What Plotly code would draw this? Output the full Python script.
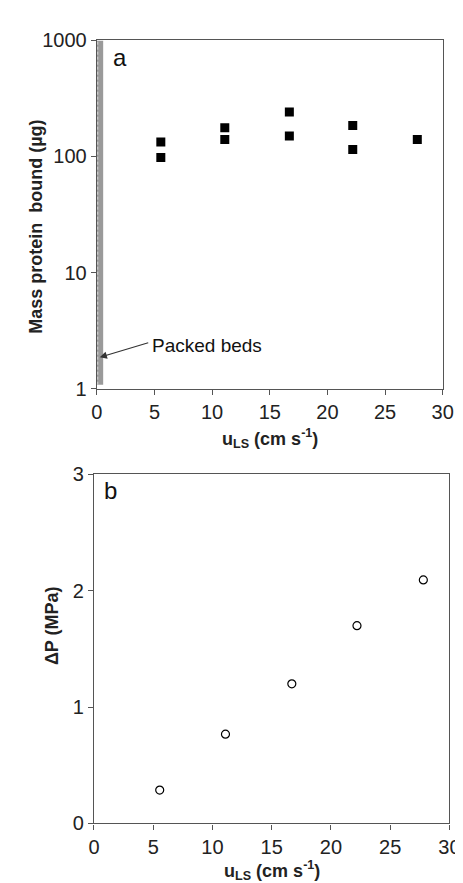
import plotly.graph_objects as go
import math

# Panel a data
u_a = [5.55, 5.55, 11.1, 11.1, 16.7, 16.7, 22.2, 22.2, 27.8]
mass_bound = [133, 98, 177, 140, 242, 150, 185, 115, 140]

# Packed bed region
packed_x = [0, 0.55, 0.55, 0]
packed_y = [1.08, 1.08, 1000, 1000]

# Panel b data
u_b = [5.55, 11.1, 16.7, 22.2, 27.8]
dP = [0.287, 0.767, 1.20, 1.70, 2.093]

x_ticks = [0, 5, 10, 15, 20, 25, 30]
y_ticks_a = [1, 10, 100, 1000]
y_ticks_b = [0, 1, 2, 3]

W, H = 463, 883
FONT = "Liberation Sans, Arial, sans-serif"
AX = "#555555"

fig = go.Figure()

fig.add_trace(go.Scatter(x=packed_x, y=packed_y, fill="toself", mode="lines",
                         fillcolor="#9a9a9a", line=dict(width=0), xaxis="x", yaxis="y",
                         showlegend=False, hoverinfo="skip"))
fig.add_trace(go.Scatter(x=[0.08, 0.08], y=[1.08, 1000], mode="lines",
                         line=dict(color="#d8d8d8", width=1, dash="3px,2px"),
                         xaxis="x", yaxis="y", showlegend=False, hoverinfo="skip"))
fig.add_trace(go.Scatter(x=u_a, y=mass_bound, mode="markers",
                         marker=dict(symbol="square", size=9, color="black"),
                         xaxis="x", yaxis="y", showlegend=False))
fig.add_trace(go.Scatter(x=u_b, y=dP, mode="markers",
                         marker=dict(symbol="circle-open", size=8, color="black", line=dict(width=1.2)),
                         xaxis="x2", yaxis="y2", showlegend=False))

axis_common = dict(showgrid=False, zeroline=False, showline=True, linecolor=AX, linewidth=1.2,
                   mirror=True, ticks="outside", ticklen=5, tickcolor=AX,
                   tickfont=dict(family=FONT, size=20, color="#222"))

fig.update_layout(
    width=W, height=H, margin=dict(l=0, r=0, t=0, b=0),
    paper_bgcolor="white", plot_bgcolor="white",
    xaxis=dict(domain=[86/W, 445/W], anchor="y", range=[0, 30], tickvals=x_ticks, **axis_common),
    yaxis=dict(domain=[1-379/H, 1-22/H], anchor="x", type="log", range=[0, 3],
               tickvals=y_ticks_a, ticktext=[str(v) for v in y_ticks_a], **axis_common),
    xaxis2=dict(domain=[83/W, 452/W], anchor="y2", range=[0, 30], tickvals=x_ticks, **axis_common),
    yaxis2=dict(domain=[1-825/H, 1-467/H], anchor="x2", range=[0, 3], tickvals=y_ticks_b, **axis_common),
)

ann = []
title_font = dict(family=FONT, size=18, color="#222")
C = dict(xref="paper", yref="paper", showarrow=False, xanchor="center", yanchor="middle")
ann.append(dict(text="<b>u<sub>LS</sub> (cm s<sup>-1</sup>)</b>", x=(86+445)/2/W, y=1-430/H,
                font=title_font, **C))
ann.append(dict(text="<b>u<sub>LS</sub> (cm s<sup>-1</sup>)</b>", x=(83+452)/2/W, y=1-873/H,
                font=title_font, **C))
ann.append(dict(text="<b>Mass protein  bound (µg)</b>", x=23/W, y=1-213/H, textangle=-90,
                font=title_font, **C))
ann.append(dict(text="<b>ΔP (MPa)</b>", x=39/W, y=1-622/H, textangle=-90,
                font=title_font, **C))
ann.append(dict(text="a", x=110/W, y=1-39/H, font=dict(family=FONT, size=24, color="#111"), **C))
ann.append(dict(text="b", x=100/W, y=1-484/H, font=dict(family=FONT, size=24, color="#111"), **C))
ann.append(dict(text="Packed beds", x=141/W, y=1-335/H, xref="paper", yref="paper",
                xanchor="left", yanchor="middle", showarrow=False,
                font=dict(family=FONT, size=19, color="#111")))
ann.append(dict(text="", x=0.25, y=math.log10(1.86), xref="x", yref="y",
                ax=138-88, ay=332-347, axref="pixel", ayref="pixel",
                showarrow=True, arrowhead=2, arrowsize=1.2, arrowwidth=1.2, arrowcolor="#333"))
fig.update_layout(annotations=ann)

fig.write_html("out.html")
